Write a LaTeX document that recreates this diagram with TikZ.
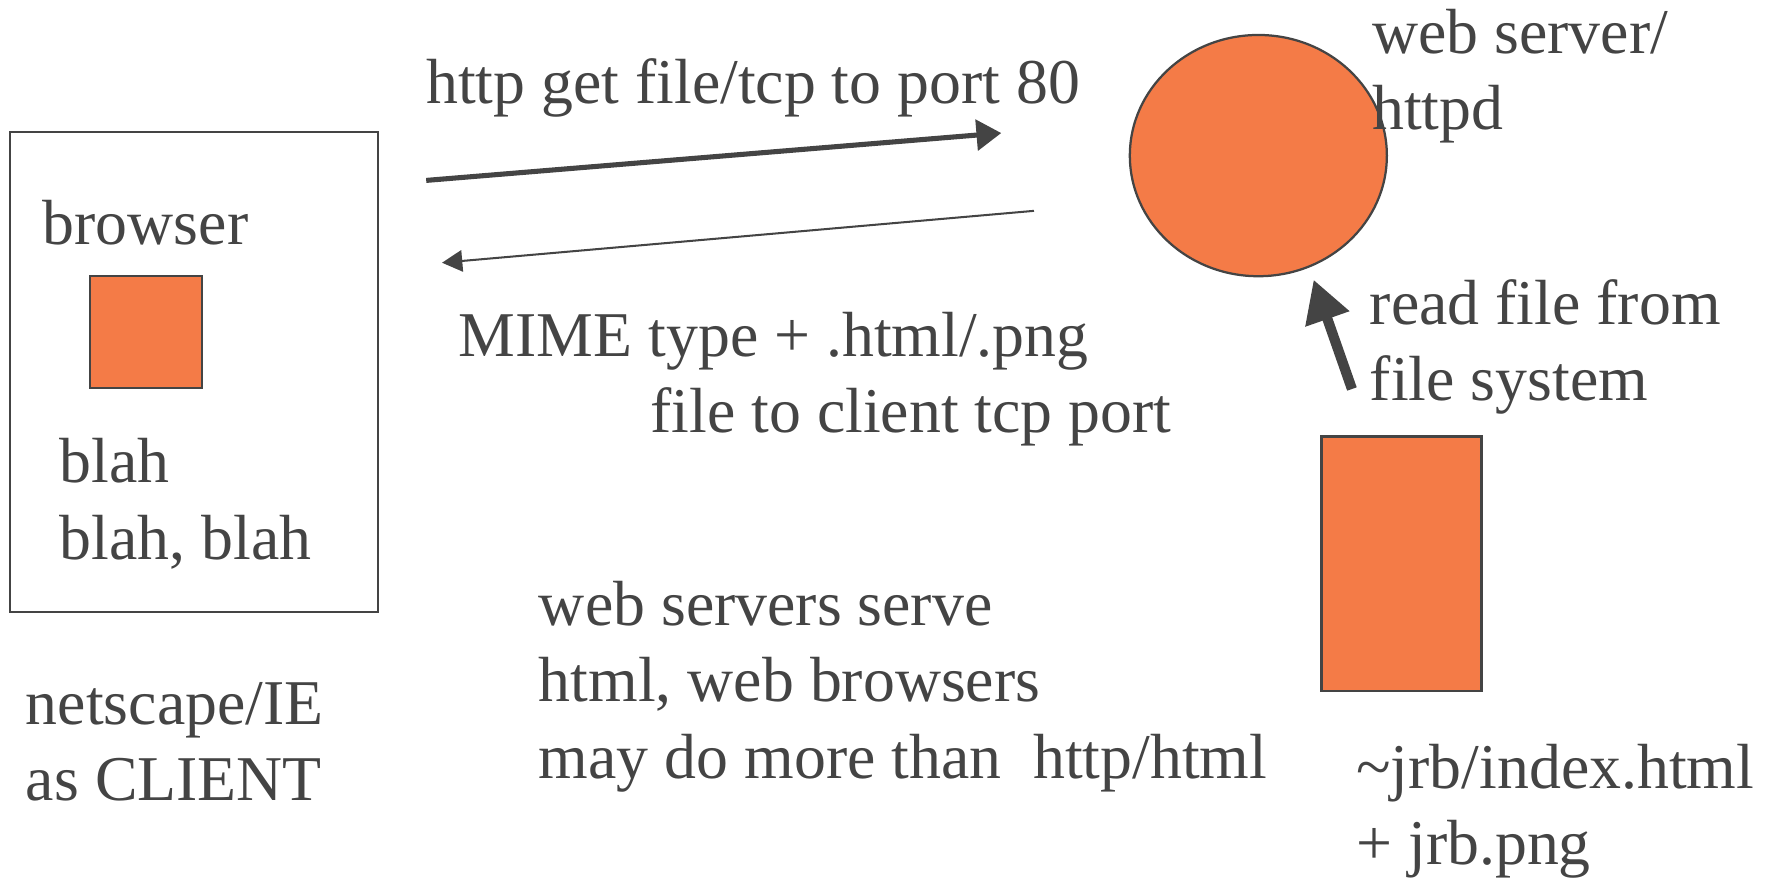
\documentclass[tikz,border=0pt]{standalone}
\usepackage{fontspec}
\setmainfont{Liberation Serif}
\usepackage{tikz}
\usetikzlibrary{arrows.meta,shapes.geometric}
\definecolor{slideorange}{HTML}{F47B47}
\definecolor{slidegray}{HTML}{444444}

\begin{document}
\begin{tikzpicture}[
		x=0.02cm, y=-0.02cm,
		every node/.style={inner sep=0pt, outer sep=0pt, text=slidegray},
		txt/.style={anchor=base west, align=left, font=\fontsize{32.2}{38.5}\selectfont},
		blob/.style={draw=slidegray, fill=slideorange, line width=0.04cm},
		frame/.style={draw=slidegray, line width=0.04cm},
		msg/.style={draw=slidegray, line width=#1}
	]
  \useasboundingbox (0,0) rectangle (1568,780);

  \node (client) [frame, rectangle, minimum width=6.52cm, minimum height=8.52cm] at (172,330) {};
  \node (page) [blob, rectangle, minimum width=1.98cm, minimum height=1.98cm] at (129.5,294.5) {};
  \node (server) [blob, ellipse, minimum width=4.56cm, minimum height=4.28cm] at (1116,138) {};
  \node (files) [blob, rectangle, minimum width=2.84cm, minimum height=4.52cm] at (1243,500) {};

  % multi-line texts sit on the baseline of their last line
  \node (browser) [txt] at (38,217) {browser};
  \node (blah) [txt] at (53,496) {blah\\blah, blah};
  \node (clientlbl) [txt] at (23,710) {netscape/IE\\as CLIENT};
  \node (getlbl) [txt] at (378,92) {http get file/tcp to port 80};
  \node (mimelbl) [txt] at (407,384) {MIME type + .html/.png\\\hspace*{3.4cm}file to client tcp port};
  \node (serverlbl) [txt] at (1217,115) {web server/\\httpd};
  \node (readlbl) [txt] at (1215,355) {read file from\\file system};
  \node (fileslbl) [txt] at (1203,767) {\textasciitilde jrb/index.html\\+ jrb.png};
  \node (note) [txt] at (478,690) {web servers serve\\html, web browsers\\may do more than~ http/html};

  \coordinate (getS) at (378,160);
  \coordinate (getE) at (888,118);
  \coordinate (sendS) at (917,187);
  \coordinate (sendE) at (392,233);
  \coordinate (readS) at (1199,345);
  \coordinate (readE) at (1165,248);

  \draw [msg=0.09cm, -{Triangle[length=0.44cm, width=0.54cm]}] (getS) -- (getE);
  \draw [msg=0.036cm, -{Triangle[length=0.36cm, width=0.38cm]}] (sendS) -- (sendE);
  \draw [msg=0.18cm, -{Triangle[length=0.74cm, width=0.78cm]}] (readS) -- (readE);
\end{tikzpicture}
\end{document}
